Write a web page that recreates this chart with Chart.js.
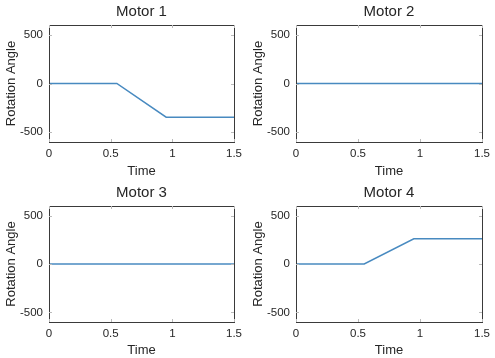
<!DOCTYPE html>
<html>
<head>
<meta charset="utf-8">
<script src="https://cdn.jsdelivr.net/npm/chart.js@4/dist/chart.umd.min.js"></script>
<style>
  html, body { margin: 0; padding: 0; background: #fff; }
  #wrap { position: relative; width: 495px; height: 358px; }
  .cell { position: absolute; }
</style>
</head>
<body>
<div id="wrap">
  <div class="cell" style="left:0;top:0;width:247px;height:179px"><canvas id="m1"></canvas></div>
  <div class="cell" style="left:247px;top:0;width:248px;height:179px"><canvas id="m2"></canvas></div>
  <div class="cell" style="left:0;top:179px;width:247px;height:179px"><canvas id="m3"></canvas></div>
  <div class="cell" style="left:247px;top:179px;width:248px;height:179px"><canvas id="m4"></canvas></div>
</div>
<script>
// dados
const tempo = [0, 0.55, 0.95, 1.5];
const motor1 = [0, 0, -345, -345];
const motor2 = [0, 0, 0, 0];
const motor3 = [0, 0, 0, 0];
const motor4 = [0, 0, 260, 260];
const titulos = ['Motor 1', 'Motor 2', 'Motor 3', 'Motor 4'];
const xTicks = [0, 0.5, 1, 1.5];
const yTicks = [-500, 0, 500];

const corTexto = '#262626';
const corLinha = 'rgb(72, 138, 192)';
const fonte = 'Liberation Sans, Arial, sans-serif';

// caixa + ticks para dentro, estilo matlab
const caixaPlugin = {
    id: 'caixa',
    afterDraw(chart) {
        const { ctx, chartArea: a, scales } = chart;
        ctx.save();
        ctx.strokeStyle = '#3a3a3a';
        ctx.lineWidth = 1;
        ctx.strokeRect(Math.round(a.left) + 0.5, Math.round(a.top) + 0.5,
            Math.round(a.right - a.left), Math.round(a.bottom - a.top));
        ctx.strokeStyle = '#bbbbbb';
        ctx.beginPath();
        xTicks.forEach(v => {
            const x = Math.round(scales.x.getPixelForValue(v)) + 0.5;
            ctx.moveTo(x, a.bottom); ctx.lineTo(x, a.bottom - 3);
            ctx.moveTo(x, a.top); ctx.lineTo(x, a.top + 3);
        });
        yTicks.forEach(v => {
            const y = Math.round(scales.y.getPixelForValue(v)) + 0.5;
            ctx.moveTo(a.left, y); ctx.lineTo(a.left + 3, y);
            ctx.moveTo(a.right, y); ctx.lineTo(a.right - 3, y);
        });
        ctx.stroke();
        ctx.restore();
    }
};

function GraficoMotor(id, valores, titulo, linhaDeBaixo) {
    const ctx = document.getElementById(id);
    return new Chart(ctx, {
        type: 'line',
        data: {
            datasets: [{
                data: tempo.map((t, i) => ({ x: t, y: valores[i] })),
                borderColor: corLinha,
                borderWidth: 1.5,
                pointRadius: 0,
                tension: 0,
                fill: false
            }]
        },
        options: {
            animation: false,
            responsive: true,
            maintainAspectRatio: false,
            layout: { padding: { top: linhaDeBaixo ? 2 : 0, right: 11, bottom: 0, left: 0 } },
            plugins: {
                legend: { display: false },
                tooltip: { enabled: false }
            },
            scales: {
                // eixo de cima só para o título ficar centrado na área do gráfico
                topo: {
                    type: 'linear',
                    position: 'top',
                    min: 0,
                    max: 1.5,
                    afterFit: s => { s.height = 25; },
                    grid: { display: false, drawTicks: false },
                    border: { display: false },
                    ticks: { display: false },
                    title: {
                        display: true,
                        text: titulo,
                        color: corTexto,
                        font: { family: fonte, size: 15, weight: 'normal', lineHeight: 1.2 },
                        padding: { top: 3, bottom: 0 }
                    }
                },
                x: {
                    type: 'linear',
                    min: 0,
                    max: 1.5,
                    afterBuildTicks: axis => { axis.ticks = xTicks.map(v => ({ value: v })); },
                    afterFit: s => { s.height = linhaDeBaixo ? 36 : 37; },
                    grid: { display: false, drawTicks: false },
                    border: { display: false },
                    ticks: {
                        color: corTexto,
                        padding: 5,
                        maxRotation: 0,
                        font: { family: fonte, size: 11.5 },
                        callback: v => String(v)
                    },
                    title: {
                        display: true,
                        text: 'Time',
                        color: corTexto,
                        font: { family: fonte, size: 13, lineHeight: 1.1 },
                        padding: { top: 0, bottom: 0 }
                    }
                },
                y: {
                    min: -600,
                    max: 600,
                    afterBuildTicks: axis => { axis.ticks = yTicks.map(v => ({ value: v })); },
                    afterFit: s => { s.width = 49; },
                    grid: { display: false, drawTicks: false },
                    border: { display: false },
                    ticks: {
                        color: corTexto,
                        padding: 6,
                        font: { family: fonte, size: 11.5 },
                        callback: v => String(v)
                    },
                    title: {
                        display: true,
                        text: 'Rotation Angle',
                        color: corTexto,
                        font: { family: fonte, size: 13, lineHeight: 1.1 },
                        padding: { top: 4, bottom: 0 }
                    }
                }
            }
        },
        plugins: [caixaPlugin]
    });
}

GraficoMotor('m1', motor1, titulos[0], false);
GraficoMotor('m2', motor2, titulos[1], false);
GraficoMotor('m3', motor3, titulos[2], true);
GraficoMotor('m4', motor4, titulos[3], true);
</script>
</body>
</html>
